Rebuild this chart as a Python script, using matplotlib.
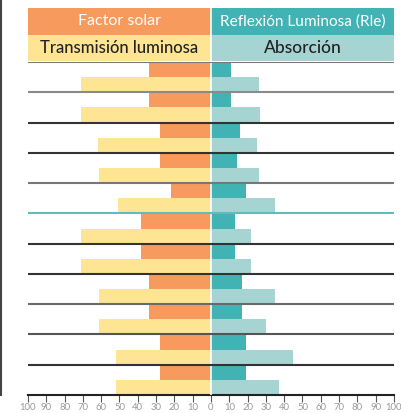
import matplotlib
matplotlib.use("Agg")
import matplotlib.pyplot as plt
from matplotlib.patches import Rectangle
from matplotlib.lines import Line2D

plt.rcParams['font.family'] = ['Lato', 'DejaVu Sans']

# data (11 glass types, top to bottom)
factor_solar = [34, 34, 28, 28, 22, 38, 38, 34, 34, 28, 28]
transmision = [71, 71, 62, 61, 51, 71, 71, 61, 61, 52, 52]
reflexion = [11, 11, 16, 14, 19, 13, 13, 17, 17, 19, 19]
absorcion = [26, 27, 25, 26, 35, 22, 22, 35, 30, 45, 37]
ticks = list(range(-100, 101, 10))
tick_labels = [str(abs(t)) for t in ticks]
headers_top = ["Factor solar", "Reflexión Luminosa (Rle)"]
headers_bottom = ["Transmisión luminosa", "Absorción"]

C_OR = '#F79A5E'
C_YE = '#FDE594'
C_TE = '#41B3B4'
C_LT = '#A5D4D3'

sep_colors = ['#7a7a7a', '#8a8a8a', '#333333', '#333333', '#777777', '#5dbdbd',
              '#333333', '#333333', '#6a6a6a', '#555555', '#333333']

W, H = 402, 413
L, R = 28, 394
fig = plt.figure(figsize=(W / 100, H / 100), dpi=100)
ax = fig.add_axes([L / W, (H - 395) / H, (R - L) / W, 333 / H])

n = len(factor_solar)
ys = list(range(n))
top = [y + 0.25 for y in ys]
bot = [y + 0.75 for y in ys]
ax.barh(top, [-v for v in factor_solar], height=0.5, color=C_OR, linewidth=0)
ax.barh(bot, [-v for v in transmision], height=0.5, color=C_YE, linewidth=0)
ax.barh(top, reflexion, height=0.5, color=C_TE, linewidth=0)
ax.barh(bot, absorcion, height=0.5, color=C_LT, linewidth=0)
ax.axvline(0, color='white', lw=1.2, zorder=3)

for i, c in enumerate(sep_colors):
    ax.axhline(i, color=c, lw=1.5, zorder=4)

ax.set_xlim(-100, 100)
ax.set_ylim(n, 0)
for s in ['top', 'left', 'right']:
    ax.spines[s].set_visible(False)
ax.spines['bottom'].set_color('#222222')
ax.spines['bottom'].set_linewidth(1.5)
ax.set_yticks([])
ax.set_xticks(ticks)
ax.set_xticklabels(tick_labels)
ax.tick_params(axis='x', length=5, width=0.8, color='#555555', pad=1,
               labelsize=6.8, labelcolor='#999999')

# header
hax = fig.add_axes([L / W, (H - 61) / H, (R - L) / W, 53 / H])
hax.set_xlim(-100, 100)
hax.set_ylim(0, 2)
hax.axis('off')
hax.add_patch(Rectangle((-100, 1), 100, 1, color=C_OR, lw=0))
hax.add_patch(Rectangle((0, 1), 100, 1, color=C_TE, lw=0))
hax.add_patch(Rectangle((-100, 0), 100, 1, color=C_YE, lw=0))
hax.add_patch(Rectangle((0, 0), 100, 1, color=C_LT, lw=0))
hax.axvline(0, color='white', lw=1.2)
hax.text(-50, 1.5, headers_top[0], color='white', ha='center', va='center', fontsize=11.5)
hax.text(50, 1.5, headers_top[1], color='white', ha='center', va='center', fontsize=11.1)
hax.text(-50, 0.5, headers_bottom[0], color='#222222', ha='center', va='center', fontsize=12, fontweight='medium')
hax.text(50, 0.5, headers_bottom[1], color='#222222', ha='center', va='center', fontsize=12.5, fontweight='medium')

# left frame line
fig.add_artist(Line2D([1 / W, 1 / W], [(H - 395) / H, 1], color='#444444', lw=1.5))

fig.savefig('out.png', dpi=100)
